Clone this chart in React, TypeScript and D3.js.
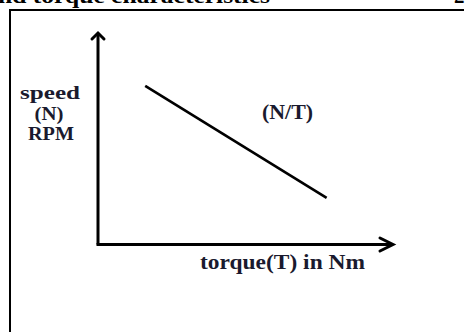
import React from "react";
import * as d3 from "d3";

const W = 465;
const H = 332;

// Characteristic N/T line (arbitrary units 0..100 on both axes)
const torqueValues = [16, 77.5];
const speedValues = [75, 22];

const yLabelLines = ["speed", "(N)", "RPM"];
const xLabel = "torque(T) in Nm";
const curveLabel = "(N/T)";
const headerText = "nd torque characteristics";
const pageNumber = "2";

export default function App() {
  const x = d3.scaleLinear().domain([0, 100]).range([98, 393]);
  const y = d3.scaleLinear().domain([0, 100]).range([244.5, 33]);

  const pts: [number, number][] = torqueValues.map((t, i) => [t, speedValues[i]]);
  const line = d3
    .line<[number, number]>()
    .x((d) => x(d[0]))
    .y((d) => y(d[1]));

  const font = "'Liberation Serif', 'Times New Roman', serif";

  return (
    <div style={{ position: "fixed", left: 0, top: 0, width: W, height: H, background: "#fff" }}>
      <svg width={W} height={H} style={{ display: "block" }}>
        <rect x={0} y={0} width={W} height={H} fill="#fff" />
        {/* header remnants */}
        <text x={270} y={3} textAnchor="end" fontFamily={font} fontWeight="bold" fontSize={21}
          textLength={272} lengthAdjust="spacingAndGlyphs" fill="#000">{headerText}</text>
        <text x={454} y={3} fontFamily={font} fontWeight="bold" fontSize={21} fill="#000">{pageNumber}</text>
        {/* frame */}
        <line x1={9} y1={10} x2={464} y2={10} stroke="#000" strokeWidth={2} />
        <line x1={10} y1={9} x2={10} y2={H} stroke="#000" strokeWidth={2} />
        {/* axes */}
        <path d={`M${x(0)},${y(0)} L${x(0)},${y(100)}`} stroke="#000" strokeWidth={3} fill="none" />
        <path d={`M${x(0) - 1.5},${y(0)} L${x(100)},${y(0)}`} stroke="#000" strokeWidth={3} fill="none" />
        {/* arrowheads */}
        <path d={`M${x(0) - 6},${y(100) + 6} L${x(0)},${y(100)} L${x(0) + 6},${y(100) + 6}`}
          stroke="#000" strokeWidth={3} fill="none" strokeLinecap="round" strokeLinejoin="miter" />
        <path d={`M${x(100) - 13},${y(0) - 6.5} L${x(100)},${y(0)} L${x(100) - 13},${y(0) + 6.5}`}
          stroke="#000" strokeWidth={3} fill="none" strokeLinecap="round" strokeLinejoin="miter" />
        {/* N/T line */}
        <path d={line(pts) || ""} stroke="#000" strokeWidth={2.6} fill="none" />
        {/* labels */}
        <g fontFamily={font} fontWeight="bold" fontSize={18.5} fill="#1a1a2e" textAnchor="middle">
          <text x={50} y={99} textLength={60} lengthAdjust="spacingAndGlyphs">{yLabelLines[0]}</text>
          <text x={49} y={119.5} textLength={29} lengthAdjust="spacingAndGlyphs">{yLabelLines[1]}</text>
          <text x={51} y={140} textLength={46} lengthAdjust="spacingAndGlyphs">{yLabelLines[2]}</text>
        </g>
        <g fontFamily={font} fontWeight="bold" fontSize={20.5} fill="#1a1a2e" textAnchor="middle">
          <text x={287.5} y={118.5} textLength={51} lengthAdjust="spacingAndGlyphs">{curveLabel}</text>
          <text x={282.5} y={268.5} textLength={165} lengthAdjust="spacingAndGlyphs">{xLabel}</text>
        </g>
      </svg>
    </div>
  );
}
